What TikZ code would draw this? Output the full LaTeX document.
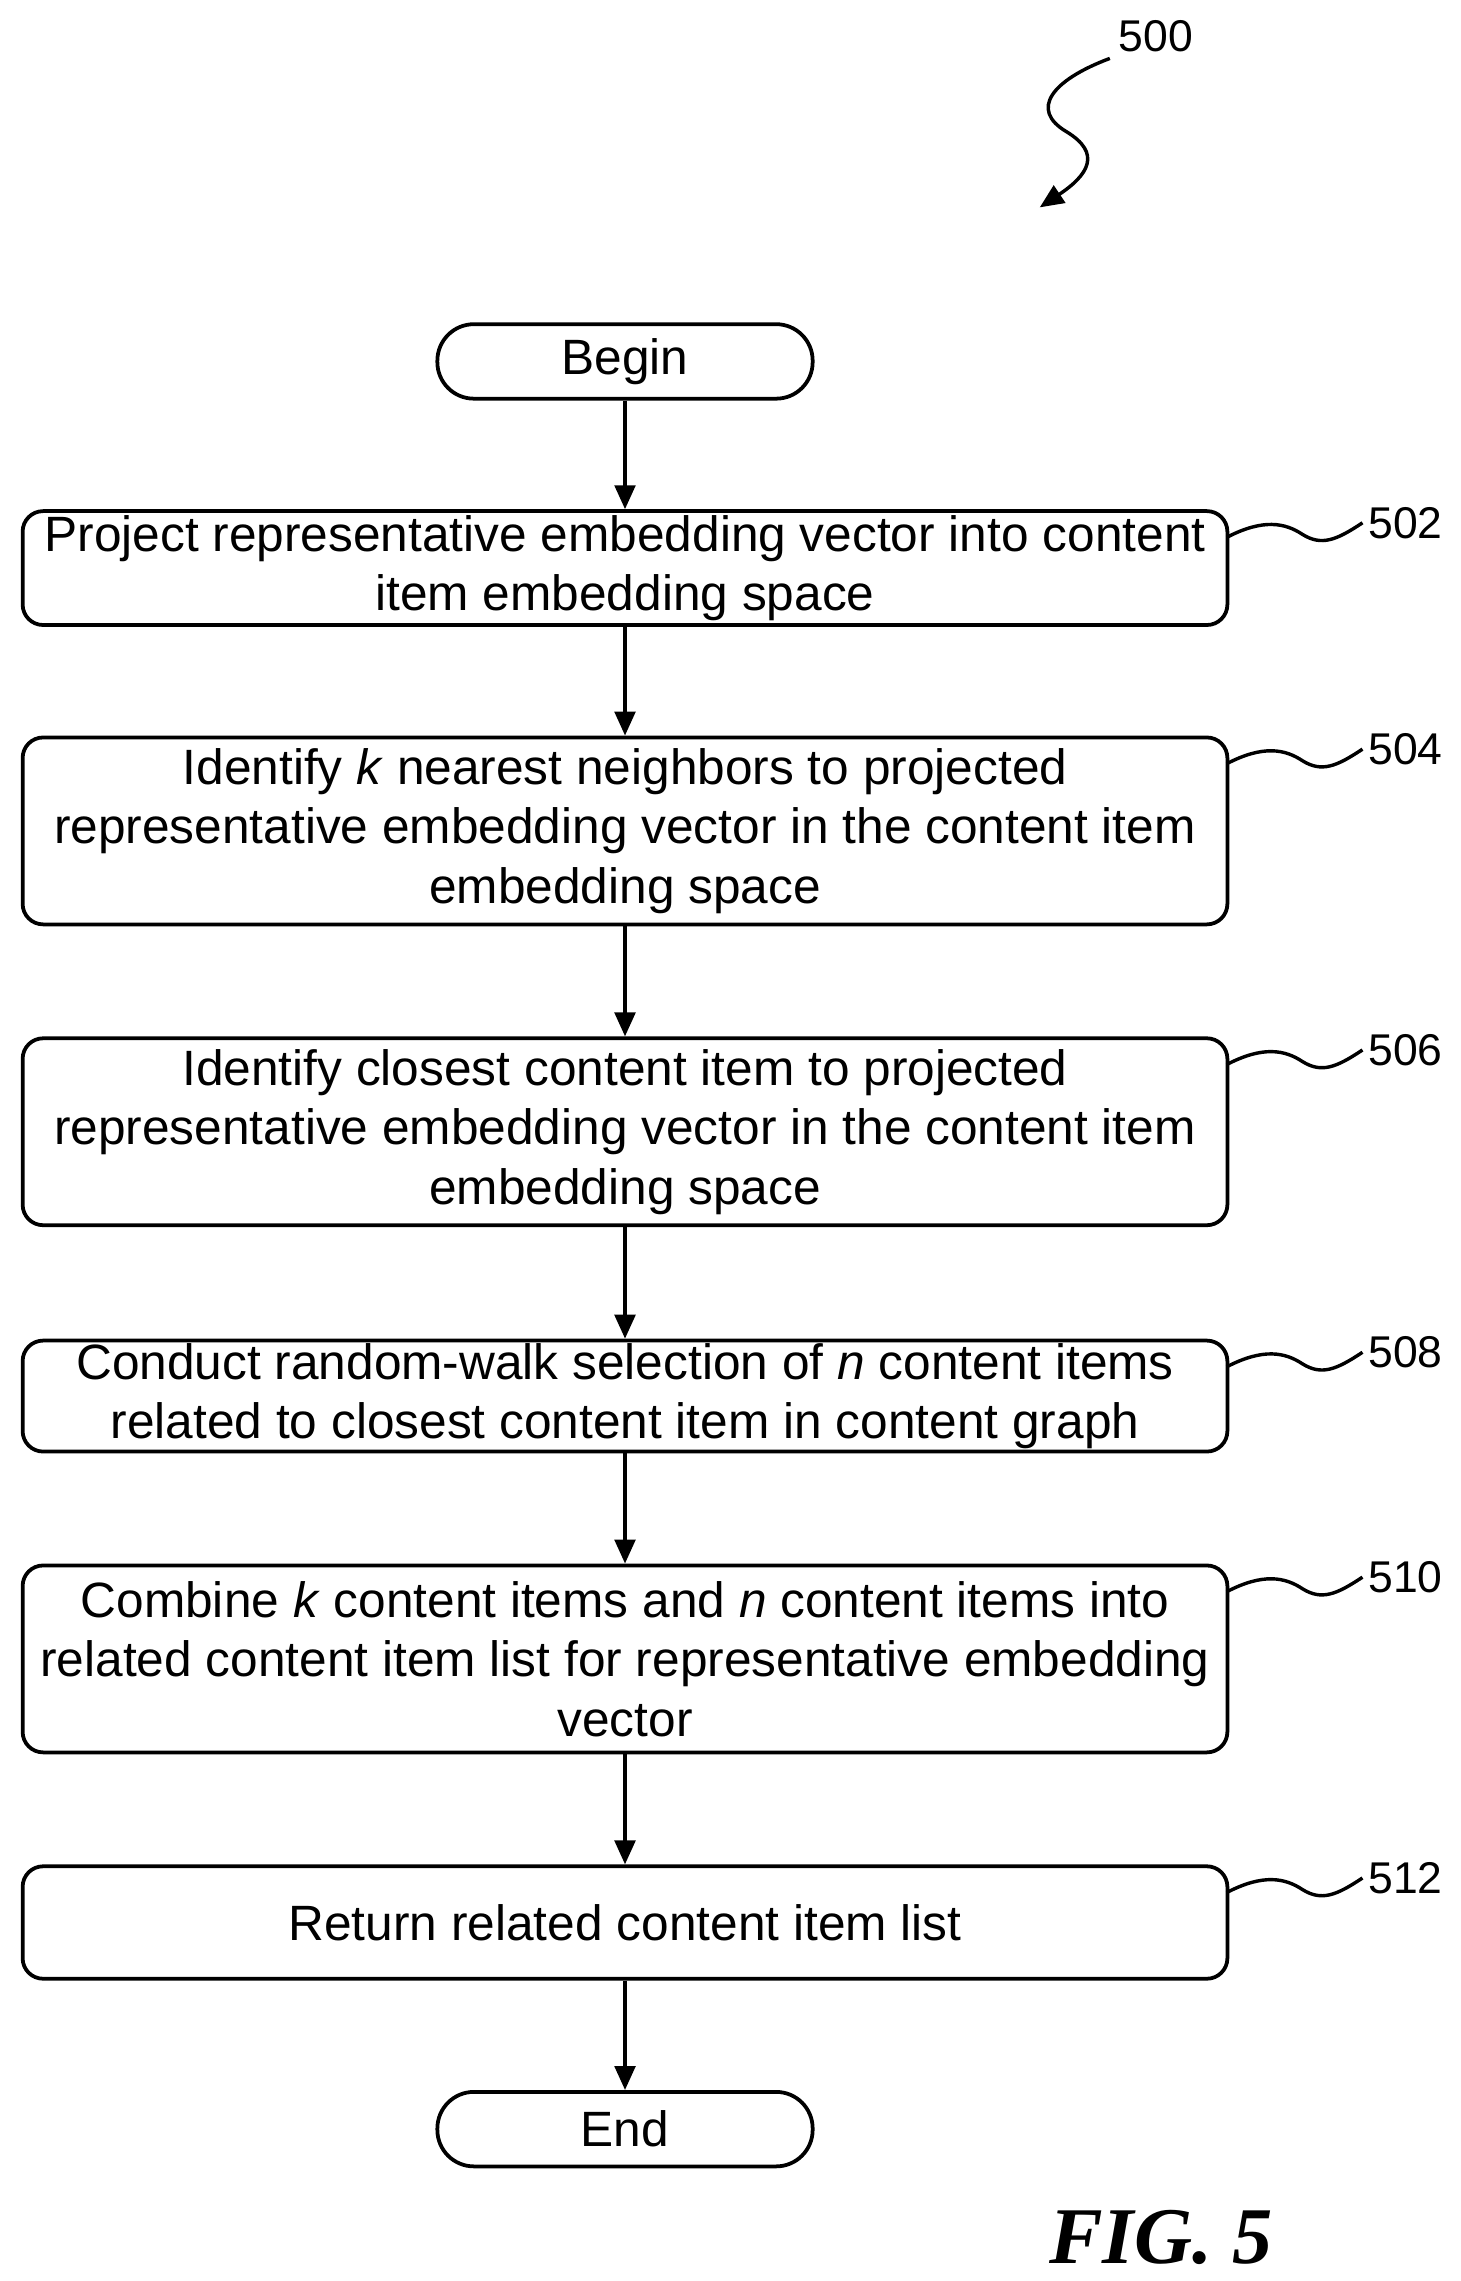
\documentclass[tikz,border=0pt]{standalone}
\usepackage{fontspec}
\setmainfont{Liberation Sans}
\newfontfamily\figfont{Liberation Serif}
\usetikzlibrary{arrows.meta}
\begin{document}
\begin{tikzpicture}[x=0.03cm,y=-0.03cm,
  box/.style={draw,line width=2.2pt,rounded corners=12pt,minimum width=825*0.03cm,align=center,inner sep=0pt,font=\fontsize{29}{34.8}\selectfont},
  term/.style={draw,line width=2.2pt,rounded corners=25*0.03cm,minimum width=257*0.03cm,minimum height=51*0.03cm,font=\fontsize{29}{34}\selectfont},
  arr/.style={line width=2.2pt,-{Triangle[length=14pt,width=12pt]}},
  sq/.style={line width=2pt},
  lab/.style={font=\fontsize{26}{30}\selectfont,anchor=west}]
\useasboundingbox (0,0) rectangle (1000,1562);
\node[term] (b) at (428,247.5) {Begin};
\node[box,minimum height=78*0.03cm] (s502) at (428,389) {Project representative embedding vector into content\\item embedding space};
\node[box,minimum height=128*0.03cm] (s504) at (428,569) {Identify \textit{k} nearest neighbors to projected\\representative embedding vector in the content item\\embedding space};
\node[box,minimum height=128*0.03cm] (s506) at (428,775) {Identify closest content item to projected\\representative embedding vector in the content item\\embedding space};
\node[box,minimum height=76*0.03cm] (s508) at (428,956) {Conduct random-walk selection of \textit{n} content items\\related to closest content item in content graph};
\node[box,minimum height=128*0.03cm] (s510) at (428,1136) {Combine \textit{k} content items and \textit{n} content items into\\related content item list for representative embedding\\vector};
\node[box,minimum height=77*0.03cm] (s512) at (428,1316.5) {Return related content item list};
\node[term] (e) at (428,1458) {End};
\draw[arr] (b) -- (s502);
\draw[arr] (s502) -- (s504);
\draw[arr] (s504) -- (s506);
\draw[arr] (s506) -- (s508);
\draw[arr] (s508) -- (s510);
\draw[arr] (s510) -- (s512);
\draw[arr] (s512) -- (e);
\foreach \n/\y in {502/350,504/505,506/711,508/918,510/1072,512/1278}{
  \node[lab] (l\n) at (933,\y+8) {\n};
  \coordinate (c\n) at (840,\y+18);
  \draw[sq] (c\n) .. controls (865,\y+5) and (880,\y+8) .. (892,\y+16) .. controls (905,\y+24) and (915,\y+20) .. (l\n.west);
}
\node[lab] (l500) at (762,25) {500};
\coordinate (t500) at (712,142);
\draw[sq,-{Triangle[length=14pt,width=12pt]}] (760,40) .. controls (720,55) and (705,75) .. (730,90) .. controls (755,105) and (745,120) .. (t500);
\node[font=\figfont\bfseries\itshape\fontsize{47}{52}\selectfont] (fig) at (795,1532) {FIG. 5};
\end{tikzpicture}
\end{document}
